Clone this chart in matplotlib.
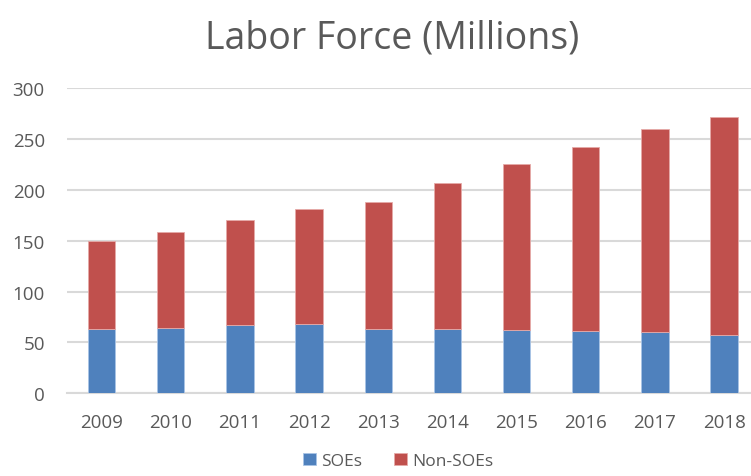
import numpy as np
import matplotlib.pyplot as plt

# Data
years = ['2009', '2010', '2011', '2012', '2013', '2014', '2015', '2016', '2017', '2018']
soes = [63.6, 64.6, 66.9, 67.9, 63.6, 63.6, 62.3, 61.0, 60.0, 57.7]
non_soes = [85.9, 94.4, 103.9, 113.7, 124.9, 143.0, 162.9, 181.0, 199.7, 213.8]

plt.rcParams['font.family'] = ['Open Sans', 'DejaVu Sans']
text_color = '#595959'

fig = plt.figure(figsize=(7.51, 4.77), dpi=100)
ax = fig.add_axes([0.0892, 0.1734, 0.921, 0.6394])

x = np.arange(len(years))
bar_width = 0.395

ax.bar(x, soes, width=bar_width, color='#4F81BD', edgecolor='#a9c4e6', linewidth=0.6,
       label='SOEs', zorder=3)
ax.bar(x, non_soes, bottom=soes, width=bar_width, color='#C0504D', edgecolor='#e6aaa8',
       linewidth=0.6, label='Non-SOEs', zorder=3)

ax.set_xlim(-0.5, len(years) - 0.5)
ax.set_ylim(0, 300)
ax.set_yticks(range(0, 301, 50))
ax.set_xticks(x)
ax.set_xticklabels(years)

ax.yaxis.grid(True, color='#d9d9d9', linewidth=1.5, zorder=0)
for side in ['top', 'right', 'left']:
    ax.spines[side].set_visible(False)
ax.spines['bottom'].set_color('#d9d9d9')
ax.spines['bottom'].set_linewidth(1.5)
ax.tick_params(axis='both', length=0, labelsize=13.5, colors=text_color)
ax.tick_params(axis='x', pad=14)
ax.tick_params(axis='y', pad=16)

fig.text(0.522, 0.92, 'Labor Force (Millions)', ha='center', va='center',
         fontsize=27, color=text_color)

fig.legend(loc='center', bbox_to_anchor=(0.53, 0.032), ncol=2, frameon=False,
           fontsize=12.5, handlelength=0.75, handleheight=0.75, handletextpad=0.3,
           columnspacing=1.8, labelcolor=text_color, borderpad=0.2)

plt.savefig('out.png', dpi=100)
